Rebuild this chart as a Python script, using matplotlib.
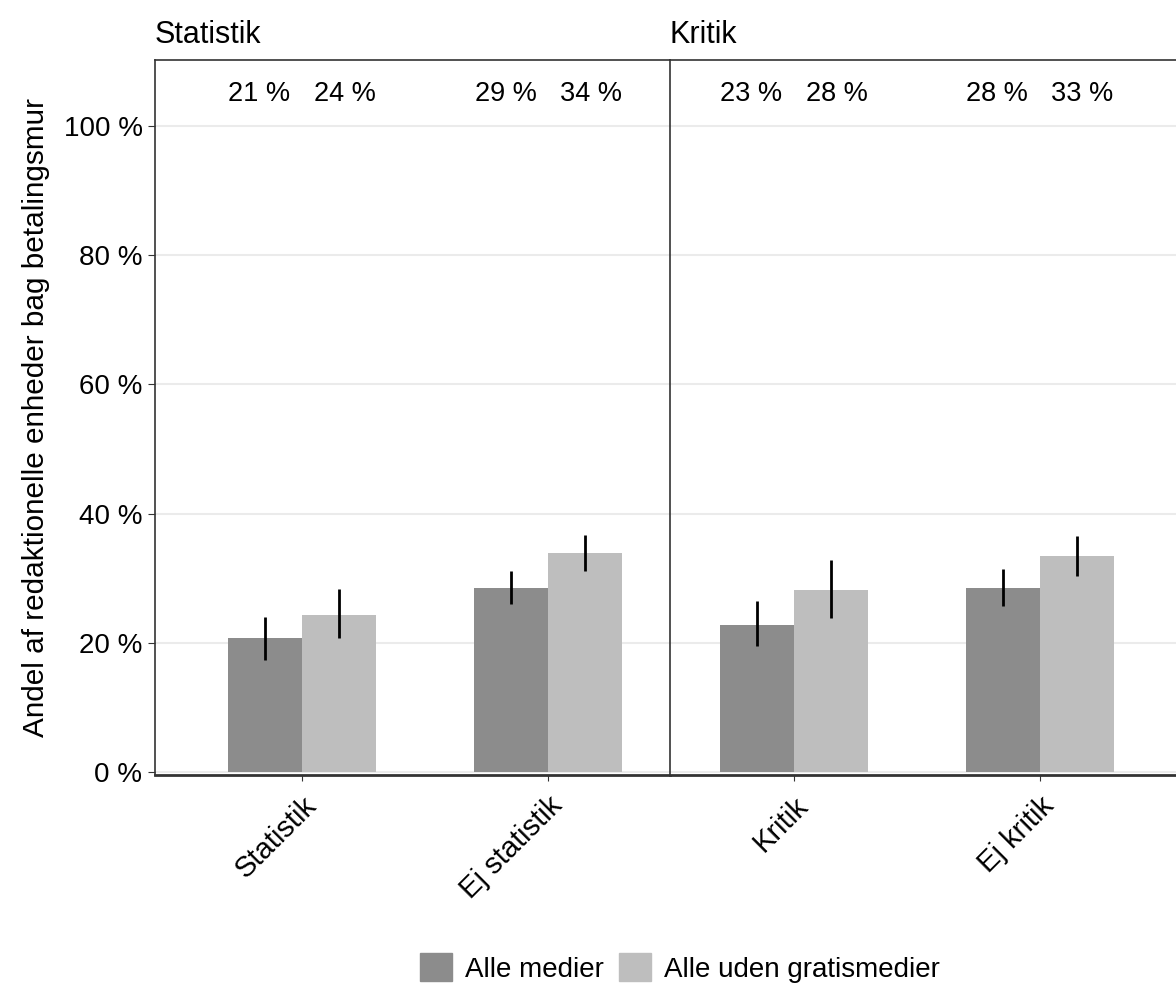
import numpy as np
import matplotlib
matplotlib.use('Agg')
import matplotlib.pyplot as plt
from matplotlib.patches import Patch

plt.rcParams['font.family'] = ['Liberation Sans', 'DejaVu Sans']

# data (percent)
panels = ['Statistik', 'Kritik']
cats = [['Statistik', 'Ej statistik'], ['Kritik', 'Ej kritik']]
series = ['Alle medier', 'Alle uden gratismedier']
colors = ['#8c8c8c', '#bebebe']

vals_all = [[20.7, 28.5], [22.8, 28.5]]
lo_all = [[17.3, 26.0], [19.5, 25.7]]
hi_all = [[24.0, 31.1], [26.5, 31.4]]

vals_free = [[24.3, 33.9], [28.2, 33.4]]
lo_free = [[20.7, 31.1], [23.9, 30.4]]
hi_free = [[28.3, 36.7], [32.8, 36.5]]

labels_all = [['21 %', '29 %'], ['23 %', '28 %']]
labels_free = [['24 %', '34 %'], ['28 %', '33 %']]

yticks = [0, 20, 40, 60, 80, 100]

W, H = 1176, 988
fig = plt.figure(figsize=(W / 100, H / 100), dpi=100)

def px_axes(x0, x1, y0, y1):
    return fig.add_axes([x0 / W, 1 - y1 / H, (x1 - x0) / W, (y1 - y0) / H])

ax1 = px_axes(155, 670, 60, 775)
ax2 = px_axes(670, 1176, 60, 775)
xlims = [(-0.598, 1.496), (-0.504, 1.553)]
bw = 0.30
lab_off = 0.173

for p, ax in enumerate([ax1, ax2]):
    x = np.arange(2)
    ax.bar(x - bw / 2, vals_all[p], bw, color=colors[0], zorder=2)
    ax.bar(x + bw / 2, vals_free[p], bw, color=colors[1], zorder=2)
    ax.vlines(x - bw / 2, lo_all[p], hi_all[p], color='black', lw=2, zorder=3)
    ax.vlines(x + bw / 2, lo_free[p], hi_free[p], color='black', lw=2, zorder=3)
    for i in range(2):
        ax.text(i - lab_off, 104.9, labels_all[p][i], ha='center', va='center', fontsize=19.5)
        ax.text(i + lab_off, 104.9, labels_free[p][i], ha='center', va='center', fontsize=19.5)
    ax.set_xlim(*xlims[p])
    ax.set_ylim(-0.46, 110.2)
    ax.set_yticks(yticks)
    ax.yaxis.grid(True, color='#ebebeb', lw=1.5, zorder=0)
    ax.set_axisbelow(True)
    ax.set_xticks(x)
    ax.set_xticklabels(cats[p], rotation=45, ha='right', rotation_mode='anchor', fontsize=21)
    ax.tick_params(axis='x', length=4, color='#333333', pad=8)
    ax.spines['right'].set_visible(False)
    for s in ['left', 'top']:
        ax.spines[s].set_color('#333333')
        ax.spines[s].set_linewidth(1.2)
    ax.spines['bottom'].set_color('#333333')
    ax.spines['bottom'].set_linewidth(2)
    ax.set_title(panels[p], loc='left', fontsize=22, pad=12)

ax1.set_yticklabels([f'{t} %' for t in yticks], fontsize=20)
ax1.tick_params(axis='y', length=5, color='#333333', pad=4)
ax1.set_ylabel('Andel af redaktionelle enheder bag betalingsmur', fontsize=21.4, labelpad=10)
ax2.tick_params(axis='y', length=0, labelleft=False)

handles = [Patch(color=c, label=s) for c, s in zip(colors, series)]
fig.legend(handles=handles, loc='center', bbox_to_anchor=(0.578, 1 - 968 / H), ncol=2,
           frameon=False, fontsize=20, handlelength=1.15, handleheight=1.15,
           handletextpad=0.47, columnspacing=0.54, borderpad=0)

fig.savefig('out.png', dpi=100)
